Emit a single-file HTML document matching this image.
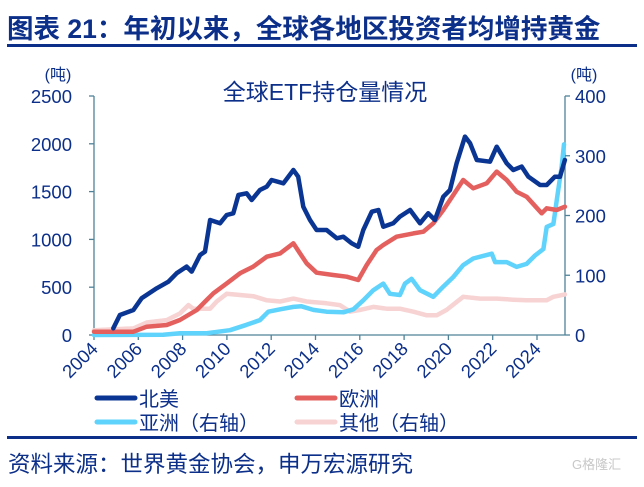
<!DOCTYPE html>
<html><head><meta charset="utf-8"><style>
body{margin:0;background:#fff;width:644px;height:482px;overflow:hidden;font-family:"Liberation Sans","Noto Sans CJK SC",sans-serif}
</style></head><body>
<svg id="c" width="644" height="482" xmlns="http://www.w3.org/2000/svg" font-family="Liberation Sans, Noto Sans CJK SC, sans-serif">
<text x="7" y="38" font-size="26.5" font-weight="bold" fill="#0c2f8a">图表 21：年初以来，全球各地区投资者均增持黄金</text>
<rect x="7" y="44" width="630" height="3" fill="#0c2f8a"/>
<text x="325" y="100" font-size="23" fill="#0c2f8a" text-anchor="middle">全球ETF持仓量情况</text>
<text x="58" y="80" font-size="16" fill="#0c2f8a" text-anchor="middle">(吨)</text>
<text x="584" y="80" font-size="16" fill="#0c2f8a" text-anchor="middle">(吨)</text>
<g id="axes"></g>
<g id="series"></g>
<g>
<line x1="97" y1="398" x2="135" y2="398" stroke="#0a3593" stroke-width="5" stroke-linecap="round"/>
<text x="139" y="406" font-size="20" fill="#0c2f8a">北美</text>
<line x1="297" y1="398" x2="335" y2="398" stroke="#e3605e" stroke-width="5" stroke-linecap="round"/>
<text x="339" y="406" font-size="20" fill="#0c2f8a">欧洲</text>
<line x1="97" y1="422" x2="135" y2="422" stroke="#5fd3fb" stroke-width="5" stroke-linecap="round"/>
<text x="139" y="430" font-size="20" fill="#0c2f8a">亚洲（右轴）</text>
<line x1="297" y1="422" x2="335" y2="422" stroke="#f7d3d3" stroke-width="5" stroke-linecap="round"/>
<text x="339" y="430" font-size="20" fill="#0c2f8a">其他（右轴）</text>
</g>
<rect x="7" y="436" width="630" height="3" fill="#0c2f8a"/>
<text x="8" y="472" font-size="22.5" fill="#0c2f8a">资料来源：世界黄金协会，申万宏源研究</text>
<text x="572" y="469" font-size="13" fill="#c8c8c8">G格隆汇</text>
</svg>
<script>
const leftTicks=[0,500,1000,1500,2000,2500];
const rightTicks=[0,100,200,300,400];
const yearTicks=[2004,2006,2008,2010,2012,2014,2016,2018,2020,2022,2024];
const naYears=[2004.87,2005.17,2005.78,2006.15,2006.83,2007.36,2007.73,2008.18,2008.41,2008.79,2009.01,2009.24,2009.69,2009.99,2010.29,2010.52,2010.89,2011.12,2011.49,2011.80,2012.02,2012.55,2013.00,2013.22,2013.45,2013.75,2014.05,2014.50,2014.96,2015.26,2015.63,2015.93,2016.16,2016.54,2016.84,2017.06,2017.51,2017.81,2018.27,2018.72,2019.09,2019.39,2019.77,2020.07,2020.37,2020.75,2020.98,2021.28,2021.88,2022.18,2022.63,2022.93,2023.31,2023.61,2024.14,2024.44,2024.81,2025.04,2025.26];
const naVals=[70,209,262,384,488,558,645,715,663,837,872,1203,1168,1255,1273,1464,1482,1412,1517,1552,1621,1587,1726,1656,1342,1203,1098,1098,1011,1028,959,924,1098,1290,1308,1133,1168,1238,1308,1168,1273,1203,1447,1517,1796,2075,2005,1831,1813,1970,1796,1726,1761,1656,1569,1569,1656,1656,1831];
const euYears=[2004.0,2005.78,2006.38,2007.28,2007.88,2008.64,2009.09,2009.39,2009.99,2010.59,2011.19,2011.80,2012.40,2013.00,2013.30,2013.60,2014.05,2014.80,2015.41,2015.93,2016.31,2016.76,2017.06,2017.66,2018.42,2018.87,2019.32,2019.77,2020.22,2020.67,2021.12,2021.73,2022.18,2022.63,2023.08,2023.53,2024.21,2024.44,2024.89,2025.26];
const euVals=[35,35,87,105,157,262,366,436,540,645,715,819,854,959,854,750,652,628,610,575,732,889,941,1028,1063,1081,1168,1308,1464,1621,1534,1587,1709,1621,1499,1447,1273,1325,1308,1342];
const asYears=[2004.0,2007.13,2007.88,2009.09,2010.14,2010.89,2011.49,2011.87,2012.40,2013.00,2013.37,2013.90,2014.50,2015.26,2015.71,2016.16,2016.61,2017.06,2017.36,2017.81,2018.04,2018.34,2018.72,2019.32,2019.77,2020.22,2020.67,2021.12,2021.96,2022.11,2022.63,2023.08,2023.53,2023.91,2024.29,2024.44,2024.74,2024.89,2025.11,2025.22];
const asVals=[0,0.5,3,3,8,17,25,39,43,47,48,42,39,38,43,58,75,86,69,67,86,94,75,64,81,97,117,128,136,122,122,114,119,133,144,181,186,225,281,319];
const otYears=[2004.0,2005.78,2006.38,2007.28,2007.88,2008.26,2008.48,2009.24,2009.54,2009.99,2010.59,2011.19,2011.80,2012.40,2013.00,2013.60,2014.50,2015.10,2015.56,2016.01,2016.61,2017.21,2017.81,2018.42,2019.02,2019.47,2019.92,2020.67,2021.43,2022.18,2022.93,2023.53,2024.44,2024.74,2025.26];
const otVals=[8,11,21,25,36,50,44,44,56,69,67,65,58,56,61,56,53,50,39,42,47,44,44,39,33,33,42,64,61,61,59,58,58,64,68];
const NS='http://www.w3.org/2000/svg';
const X0=94,PX_YR=22.15,YB=335,YT=96;
const xs=y=>X0+(y-2004)*PX_YR;
const yl=v=>YB-v/2500*(YB-YT);
const yr=v=>YB-v/400*(YB-YT);
function mk(tag,attrs,parent){const e=document.createElementNS(NS,tag);for(const k in attrs)e.setAttribute(k,attrs[k]);parent.appendChild(e);return e;}
const ax=document.getElementById('axes');
const AC='#4f8299',TC='#0c2f8a';
let e;
e=mk('line',{x1:X0,y1:YT,x2:X0,y2:YB,stroke:AC,'stroke-width':1.3},ax);


e=mk('line',{x1:565,y1:YT,x2:565,y2:YB,stroke:AC,'stroke-width':1.3},ax);


e=mk('line',{x1:X0,y1:YB,x2:565,y2:YB,stroke:AC,'stroke-width':1.3},ax);


leftTicks.forEach(v=>{const y=yl(v);
 mk('line',{x1:X0-5,y1:y,x2:X0,y2:y,stroke:AC,'stroke-width':1.3},ax);
 e=mk('text',{x:72,y:y+7,'font-size':18.5,fill:TC,'text-anchor':'end'},ax);e.textContent=v;
 
 });
rightTicks.forEach(v=>{const y=yr(v);
 mk('line',{x1:565,y1:y,x2:570,y2:y,stroke:AC,'stroke-width':1.3},ax);
 e=mk('text',{x:575,y:y+7,'font-size':18.5,fill:TC},ax);e.textContent=v;
 
 });
yearTicks.forEach(t=>{const x=xs(t);
 mk('line',{x1:x,y1:YB,x2:x,y2:YB+5,stroke:AC,'stroke-width':1.3},ax);
 e=mk('text',{x:x+5,y:YB+15,'font-size':18.5,fill:TC,'text-anchor':'end',transform:`rotate(-45 ${x+5} ${YB+15})`},ax);e.textContent=t;
 
 });
const sg=document.getElementById('series');
function line(years,vals,sc,col,name){const d=years.map((t,i)=>(i?'L':'M')+xs(t).toFixed(1)+','+sc(vals[i]).toFixed(1)).join('');
 const p=mk('path',{d:d,fill:'none',stroke:col,'stroke-width':4.5,'stroke-linejoin':'round','stroke-linecap':'round'},sg);
 
 }
line(otYears,otVals,yr,'#f7d3d3','series-other');
line(asYears,asVals,yr,'#5fd3fb','series-asia');
line(euYears,euVals,yl,'#e3605e','series-europe');
line(naYears,naVals,yl,'#0a3593','series-north-america');
</script>
</body></html>
